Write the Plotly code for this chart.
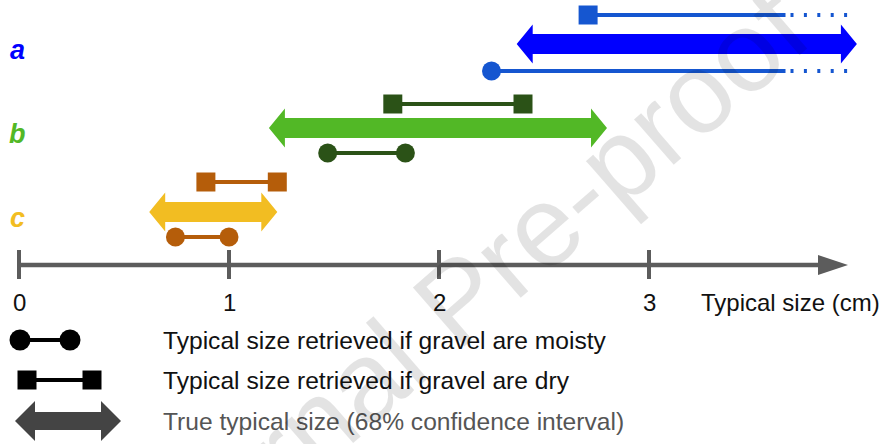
import plotly.graph_objects as go

# gravel samples (top to bottom) and their typical sizes in cm
samples = ["a", "b", "c"]
true_lo = [2.37, 1.19, 0.62]
true_hi = [3.99, 2.80, 1.23]
dry_lo = [2.71, 1.78, 0.89]
dry_hi = [3.65, 2.40, 1.23]
moist_lo = [2.25, 1.47, 0.745]
moist_hi = [3.65, 1.84, 1.0]
open_ended = [True, False, False]   # a: retrieved sizes go beyond the scale
open_end = 3.99

tick_vals = [0, 1, 2, 3]
tick_text = ["0", "1", "2", "3"]
axis_title = "Typical size (cm)"
legend_labels = [
    "Typical size retrieved if gravel are moisty",
    "Typical size retrieved if gravel are dry",
    "True typical size (68% confidence interval)",
]

arrow_colors = ["#0000ff", "#52b826", "#f2bd22"]
marker_colors = ["#1556d0", "#2b5217", "#b55d0a"]

# layout: y is measured in pixels from the top
row_y = [44, 128, 212]
dry_dy = [-29, -24, -30]
moist_dy = [27, 25, 25]
axis_y = 265
PX = 210.0          # pixels per cm
X0 = 19             # pixel position of 0 cm
FONT = "Liberation Sans, Arial, Helvetica, sans-serif"


def px(p):
    return (p - X0) / PX


def double_arrow(lo, hi, y, head=16 / PX, shaft=10, half=19.5):
    xs = [lo, lo + head, lo + head, hi - head, hi - head, hi, hi - head, hi - head, lo + head, lo + head, lo]
    ys = [y, y - half, y - shaft, y - shaft, y - half, y, y + half, y + shaft, y + shaft, y + half, y]
    return xs, ys


fig = go.Figure()


def add_range(lo, hi, y, color, symbol, size=19, width=4, open_right=False):
    fig.add_trace(go.Scatter(x=[lo, hi], y=[y, y], mode="lines",
                             line=dict(color=color, width=width), hoverinfo="skip"))
    if open_right:
        # sizes continue past the end of the scale
        fig.add_trace(go.Scatter(x=[hi + 5 / PX, open_end], y=[y, y], mode="lines",
                                 line=dict(color=color, width=width, dash="3px,10.4px"),
                                 hoverinfo="skip"))
        mx, my = [lo], [y]
    else:
        mx, my = [lo, hi], [y, y]
    fig.add_trace(go.Scatter(x=mx, y=my, mode="markers",
                             marker=dict(symbol=symbol, size=size, color=color, line=dict(width=0)),
                             hoverinfo="skip"))


for i, s in enumerate(samples):
    xs, ys = double_arrow(true_lo[i], true_hi[i], row_y[i])
    fig.add_trace(go.Scatter(x=xs, y=ys, mode="lines", fill="toself",
                             fillcolor=arrow_colors[i], line=dict(width=0), hoverinfo="skip"))
    add_range(dry_lo[i], dry_hi[i], row_y[i] + dry_dy[i], marker_colors[i], "square",
              open_right=open_ended[i])
    add_range(moist_lo[i], moist_hi[i], row_y[i] + moist_dy[i], marker_colors[i], "circle",
              open_right=open_ended[i])
    fig.add_annotation(x=px(17), y=row_y[i] + 6, text="<b><i>%s</i></b>" % s, showarrow=False,
                       font=dict(family=FONT, size=27, color=arrow_colors[i]))

# horizontal axis with arrow head
axis_color = "#5c5c5c"
fig.add_trace(go.Scatter(x=[px(17), px(820)], y=[axis_y, axis_y], mode="lines",
                         line=dict(color=axis_color, width=4.5), hoverinfo="skip"))
fig.add_trace(go.Scatter(x=[px(818), px(848), px(818), px(818)],
                         y=[axis_y - 10, axis_y, axis_y + 10, axis_y - 10],
                         mode="lines", fill="toself", fillcolor=axis_color,
                         line=dict(width=0), hoverinfo="skip"))
for v, t in zip(tick_vals, tick_text):
    fig.add_shape(type="line", x0=v, x1=v, y0=axis_y - 15, y1=axis_y + 14,
                  line=dict(color=axis_color, width=4))
    fig.add_annotation(x=v, y=axis_y + 37, text=t, showarrow=False,
                       font=dict(family=FONT, size=24, color="#111111"))
fig.add_annotation(x=px(699), y=axis_y + 37, text=axis_title, showarrow=False, xanchor="left",
                   font=dict(family=FONT, size=24, color="#111111"))

# legend glyphs
leg_y = [340, 380, 421]
fig.add_trace(go.Scatter(x=[px(20), px(70)], y=[leg_y[0]] * 2, mode="lines+markers",
                         line=dict(color="black", width=4),
                         marker=dict(symbol="circle", size=21, color="black"), hoverinfo="skip"))
fig.add_trace(go.Scatter(x=[px(27), px(92)], y=[leg_y[1]] * 2, mode="lines+markers",
                         line=dict(color="black", width=4),
                         marker=dict(symbol="square", size=19, color="black"), hoverinfo="skip"))
xs, ys = double_arrow(px(15), px(121), leg_y[2], head=20 / PX, shaft=9, half=20)
fig.add_trace(go.Scatter(x=xs, y=ys, mode="lines", fill="toself", fillcolor="#444444",
                         line=dict(width=0), hoverinfo="skip"))
leg_colors = ["#111111", "#111111", "#555555"]
for y, lab, c in zip(leg_y, legend_labels, leg_colors):
    fig.add_annotation(x=px(161), y=y, text=lab, showarrow=False, xanchor="left",
                       font=dict(family=FONT, size=24.6, color=c))

# watermark
fig.add_annotation(xref="paper", yref="paper", x=457 / 883, y=1 - 300 / 444,
                   xanchor="center", yanchor="middle",
                   text="Journal Pre-proof", showarrow=False, textangle=-41,
                   font=dict(family=FONT, size=114, color="rgba(0,0,0,0.11)"))

fig.update_layout(
    width=883, height=444,
    margin=dict(l=0, r=0, t=0, b=0),
    showlegend=False,
    plot_bgcolor="white", paper_bgcolor="white",
    xaxis=dict(range=[px(0), px(883)], visible=False, fixedrange=True),
    yaxis=dict(range=[444, 0], visible=False, fixedrange=True),
)

fig.write_html("out.html", config={"displayModeBar": False},
               post_script="document.body.style.margin='0';")
